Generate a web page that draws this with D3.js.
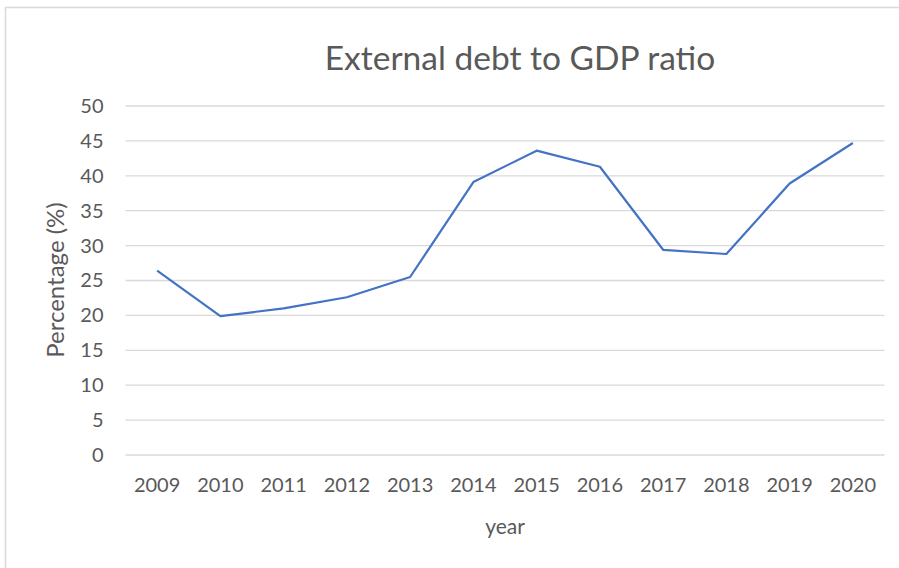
<!DOCTYPE html>
<html><head><meta charset="utf-8">
<script src="https://cdn.jsdelivr.net/npm/d3@7"></script>
<style>body{margin:0;background:#fff}svg{display:block}text{font-family:Lato,"Open Sans",sans-serif}</style>
</head><body>
<script>
const years = ["2009","2010","2011","2012","2013","2014","2015","2016","2017","2018","2019","2020"];
const ratio = [26.4,19.9,21.0,22.6,25.5,39.1,43.6,41.3,29.4,28.8,38.9,44.7];
const yTicks = [0,5,10,15,20,25,30,35,40,45,50];
const title = "External debt to GDP ratio";
const xTitle = "year";
const yTitle = "Percentage (%)";

const W = 899, H = 568;
const svg = d3.select("body").append("svg").attr("width", W).attr("height", H);
svg.append("rect").attr("x",5.5).attr("y",7.5).attr("width",W+10).attr("height",H+10)
  .attr("fill","#fff").attr("stroke","#d9d9d9").attr("stroke-width",1.5);

const x = d3.scaleBand().domain(years).range([125.5, 884.5]);
const y = d3.scaleLinear().domain([0,50]).range([455,106]);

const g = svg.append("g");
g.selectAll("line.grid").data(yTicks).join("line")
  .attr("x1",125.5).attr("x2",884.5)
  .attr("y1",d=>y(d)).attr("y2",d=>y(d))
  .attr("stroke","#d9d9d9").attr("stroke-width",1.3);

const yAxis = svg.append("g").attr("transform","translate(125.5,0)")
  .call(d3.axisLeft(y).tickValues(yTicks).tickSize(0).tickPadding(22));
yAxis.select(".domain").remove();
yAxis.selectAll("text").attr("font-size",20).attr("fill","#595959").attr("font-family","Lato");

const xAxis = svg.append("g").attr("transform","translate(0,455)")
  .call(d3.axisBottom(x).tickSize(0).tickPadding(23));
xAxis.select(".domain").remove();
xAxis.selectAll("text").attr("font-size",20).attr("fill","#595959").attr("font-family","Lato");

const line = d3.line().x((d,i)=>x(years[i])+x.bandwidth()/2).y(d=>y(d));
svg.append("path").datum(ratio).attr("d",line).attr("fill","none")
  .attr("stroke","#4472c4").attr("stroke-width",2.2).attr("stroke-linejoin","round");

svg.append("text").attr("x",520).attr("y",70).attr("text-anchor","middle")
  .attr("font-size",33.5).attr("fill","#595959").text(title);
svg.append("text").attr("x",505).attr("y",534).attr("text-anchor","middle")
  .attr("font-size",21).attr("fill","#595959").text(xTitle);
svg.append("text").attr("transform","translate(64,280) rotate(-90)").attr("text-anchor","middle")
  .attr("font-size",24).attr("fill","#595959").text(yTitle);
</script>
</body></html>
